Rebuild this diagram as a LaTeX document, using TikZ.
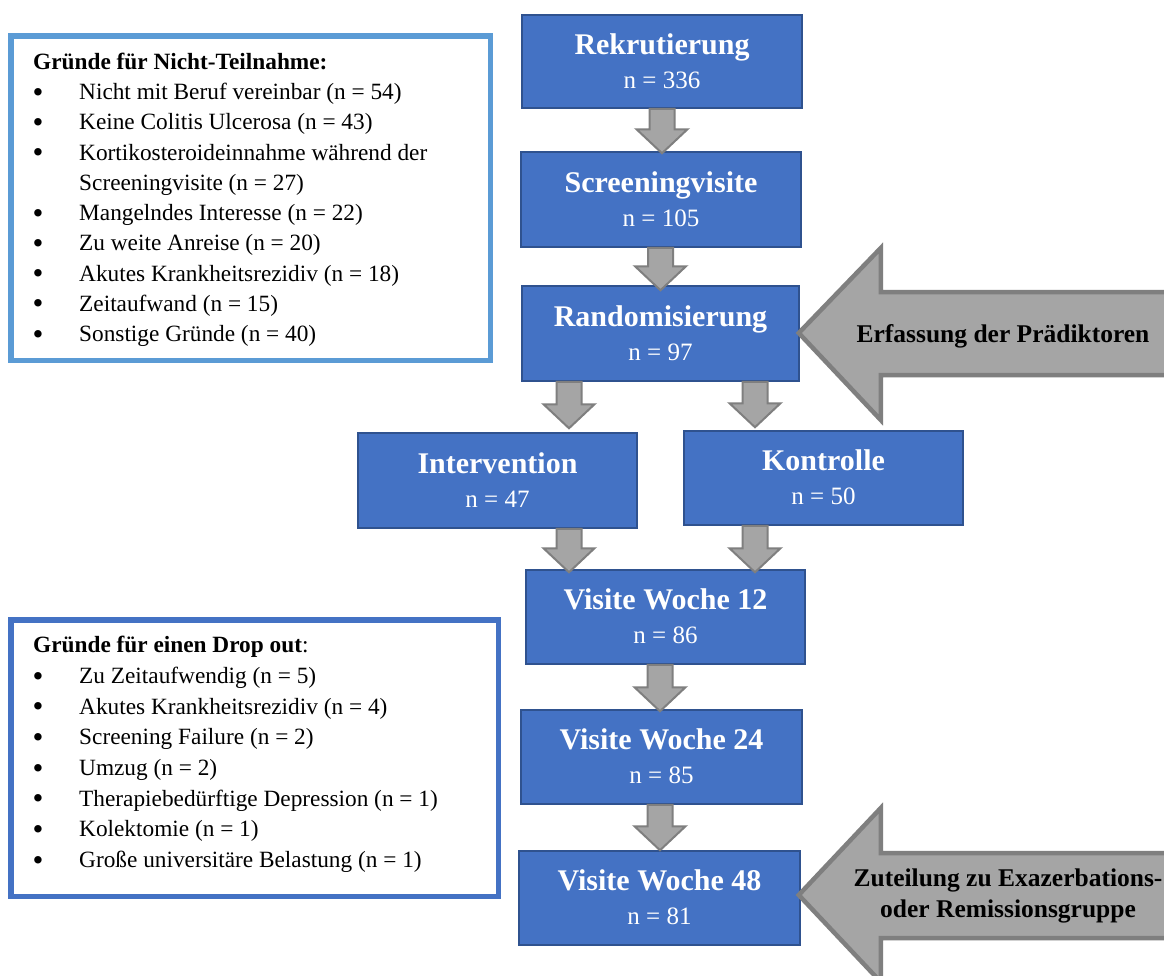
\documentclass[tikz,border=0pt]{standalone}
\usepackage{fontspec}
\setmainfont{Liberation Serif}
\usetikzlibrary{calc}
\definecolor{boxblue}{HTML}{4472C4}
\definecolor{boxedge}{HTML}{2F528F}
\definecolor{lightedge}{HTML}{5B9BD5}
\definecolor{agrey}{HTML}{A5A5A5}
\definecolor{aedge}{HTML}{7F7F7F}
\newcommand\blockdown[2]{% #1 shaft top centre, #2 tip
  \draw[garrow] let \p1=#1, \p2=#2 in
    (\x1-12.5pt,\y1) -- (\x1+12.5pt,\y1) -- (\x1+12.5pt,\y2+24pt) -- (\x1+25.5pt,\y2+24pt)
    -- (\x1,\y2) -- (\x1-25.5pt,\y2+24pt) -- (\x1-12.5pt,\y2+24pt) -- cycle;}
\begin{document}
\begin{tikzpicture}[x=1pt,y=-1pt,
  bluebox/.style={draw=boxedge, line width=1.5pt, fill=boxblue, inner sep=0pt},
  btitle/.style={text=white, font=\fontsize{30}{36}\selectfont\bfseries, inner sep=0pt, anchor=base},
  bcount/.style={text=white, font=\fontsize{25}{30}\selectfont, inner sep=0pt, anchor=base},
  garrow/.style={draw=aedge, line width=2pt, fill=agrey, line join=miter},
  bigarrow/.style={draw=aedge, line width=4.5pt, fill=agrey, line join=miter},
  listbox/.style={line width=5.5pt, inner sep=0pt},
  listtxt/.style={font=\fontsize{23.3}{28}\selectfont, inner sep=0pt, anchor=base west},
  bul/.style={font=\fontsize{31}{34}\selectfont, inner sep=0pt, anchor=base, yshift=-2.5pt},
  atxt/.style={font=\fontsize{25.5}{31}\selectfont\bfseries, inner sep=0pt, anchor=base},
]
\useasboundingbox (0,0) rectangle (1164,975);
\fill[white] (0,0) rectangle (1164,975);

% ---- main boxes
\node[bluebox, minimum width=280pt, minimum height=93pt] (rek) at (662,61.5) {};
\node[bluebox, minimum width=280pt, minimum height=95pt] (scr) at (661,199.5) {};
\node[bluebox, minimum width=277pt, minimum height=95pt] (rand) at (660.5,333.5) {};
\node[bluebox, minimum width=279pt, minimum height=95pt] (int) at (497.5,480.5) {};
\node[bluebox, minimum width=279pt, minimum height=94pt] (kon) at (823.5,478) {};
\node[bluebox, minimum width=279pt, minimum height=94pt] (v12) at (665.5,617) {};
\node[bluebox, minimum width=281pt, minimum height=94pt] (v24) at (661.5,757) {};
\node[bluebox, minimum width=281pt, minimum height=94pt] (v48) at (659.5,898) {};

\foreach \n/\t/\c in {rek/Rekrutierung/336, scr/Screeningvisite/105, rand/Randomisierung/97,
    int/Intervention/47, kon/Kontrolle/50, v12/Visite Woche 12/86, v24/Visite Woche 24/85, v48/Visite Woche 48/81}{
  \node[btitle] (\n-t) at ([yshift=7.5pt]\n.center) {\t};
  \node[bcount] (\n-n) at ([yshift=-26.5pt]\n.center) {n = \c};
}

% ---- block arrows between boxes
\coordinate (a1e) at ($(rek.south|-scr.north)+(0,2)$);
\blockdown{(rek.south)}{(a1e)}
\coordinate (a2s) at ($(scr.south)+(-0.5,0)$);
\coordinate (a2e) at ($(a2s|-rand.north)+(0,5)$);
\blockdown{(a2s)}{(a2e)}
\coordinate (a3s) at ($(rand.south)+(-91.5,0)$);
\coordinate (a3e) at ($(a3s|-int.north)+(0,-4)$);
\blockdown{(a3s)}{(a3e)}
\coordinate (a4s) at ($(rand.south)+(94.5,0)$);
\coordinate (a4e) at ($(a4s|-kon.north)+(0,-3)$);
\blockdown{(a4s)}{(a4e)}
\coordinate (a5s) at ($(int.south)+(71.5,0)$);
\coordinate (a5e) at ($(a5s|-v12.north)+(0,3)$);
\blockdown{(a5s)}{(a5e)}
\coordinate (a6s) at ($(kon.south)+(-68.5,0)$);
\coordinate (a6e) at ($(a6s|-v12.north)+(0,3)$);
\blockdown{(a6s)}{(a6e)}
\coordinate (a7s) at ($(v12.south)+(-5.5,0)$);
\coordinate (a7e) at ($(a7s|-v24.north)+(0,2)$);
\blockdown{(a7s)}{(a7e)}
\coordinate (a8s) at ($(v24.south)+(-1.5,0)$);
\coordinate (a8e) at ($(a8s|-v48.north)+(0,0)$);
\blockdown{(a8s)}{(a8e)}

% ---- big grey arrows
\begin{scope}
\clip (0,0) rectangle (1164,975);
\coordinate (t1) at ($(rand.east)+(-1,-0.5)$);
\draw[bigarrow] (t1) -- ++(82,-85) -- ++(0,44) -- ++(300,0) -- ++(0,83) -- ++(-300,0) -- ++(0,45) -- cycle;
\coordinate (t2) at ($(v48.east)+(-2,-3)$);
\draw[bigarrow] (t2) -- ++(82,-87) -- ++(0,45) -- ++(300,0) -- ++(0,85) -- ++(-300,0) -- ++(0,44) -- cycle;
\end{scope}
\node[atxt] (erf) at (1003,342) {Erfassung der Prädiktoren};
\node[atxt] (zut1) at (1008,886) {Zuteilung zu Exazerbations-};
\node[atxt] (zut2) at (1008,917) {oder Remissionsgruppe};

% ---- list box: Nicht-Teilnahme
\node[listbox, draw=lightedge, minimum width=479.5pt, minimum height=324.5pt] (ntbox) at (250.5,198) {};
\node[listtxt] (nt-t) at (33,69.5) {\textbf{Gründe für Nicht-Teilnahme:}};
\foreach \b/\t [count=\i] in {1/Nicht mit Beruf vereinbar (n = 54), 1/Keine Colitis Ulcerosa (n = 43),
    1/Kortikosteroideinnahme während der, 0/Screeningvisite (n = 27), 1/Mangelndes Interesse (n = 22),
    1/Zu weite Anreise (n = 20), 1/Akutes Krankheitsrezidiv (n = 18), 1/Zeitaufwand (n = 15),
    1/Sonstige Gründe (n = 40)}{
  \node[listtxt] (nt\i) at (79,{99.5+30.25*(\i-1)}) {\t};
  \ifnum\b=1 \node[bul] (ntb\i) at (38,{99.5+30.25*(\i-1)}) {•};\fi
}

% ---- list box: Drop out
\node[listbox, draw=boxblue, minimum width=487.5pt, minimum height=276.5pt] (dobox) at (254.5,758) {};
\node[listtxt] (do-t) at (33,652) {\textbf{Gründe für einen Drop out}:};
\foreach \t [count=\i] in {Zu Zeitaufwendig (n = 5), Akutes Krankheitsrezidiv (n = 4),
    Screening Failure (n = 2), Umzug (n = 2), Therapiebedürftige Depression (n = 1),
    Kolektomie (n = 1), Große universitäre Belastung (n = 1)}{
  \node[listtxt] (do\i) at (79,{683.5+30.67*(\i-1)}) {\t};
  \node[bul] (dob\i) at (38,{683.5+30.67*(\i-1)}) {•};
}
\end{tikzpicture}
\end{document}
